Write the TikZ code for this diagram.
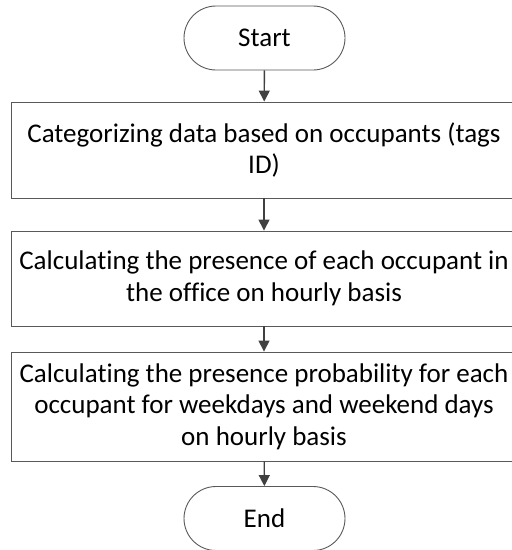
\documentclass[tikz,border=0pt]{standalone}
\usepackage{fontspec}
\setmainfont[Ligatures={NoCommon}]{Carlito}
\usetikzlibrary{arrows.meta,shapes.misc}
\definecolor{edgegray}{HTML}{595959}
\definecolor{arrowgray}{HTML}{404040}
\begin{document}
\begin{tikzpicture}[x=1pt,y=-1pt,
  term/.style={draw=edgegray, line width=0.9pt, rounded rectangle,
    minimum width=161pt, minimum height=64pt, inner sep=0pt,
    font=\fontsize{27}{31.5}\selectfont},
  procbox/.style={draw=edgegray, line width=0.9pt, rectangle,
    minimum width=506pt, inner sep=0pt, align=center,
    font=\fontsize{27}{31.5}\selectfont},
  flow/.style={draw=arrowgray, line width=1.4pt,
    -{Triangle[width=11pt,length=11pt]}}]
\useasboundingbox (0,0) rectangle (512,550);
\clip (0,0) rectangle (512,550);
\node[term] (start) at (264.5,38) {Start};
\node[procbox, minimum height=96pt] (cat) at (264,150)
  {Categorizing data based on occupants (tags\\ID)};
\node[procbox, minimum height=95pt] (pres) at (264,278.5)
  {Calculating the presence of each occupant in\\the office on hourly basis};
\node[procbox, minimum height=109pt] (prob) at (264,406.5)
  {Calculating the presence probability for each\\occupant for weekdays and weekend days\\on hourly basis};
\node[term] (end) at (264.5,518.5) {End};
\draw[flow] (start) -- (cat);
\draw[flow] (cat) -- (pres);
\draw[flow] (pres) -- (prob);
\draw[flow] (prob) -- (end);
\end{tikzpicture}
\end{document}
